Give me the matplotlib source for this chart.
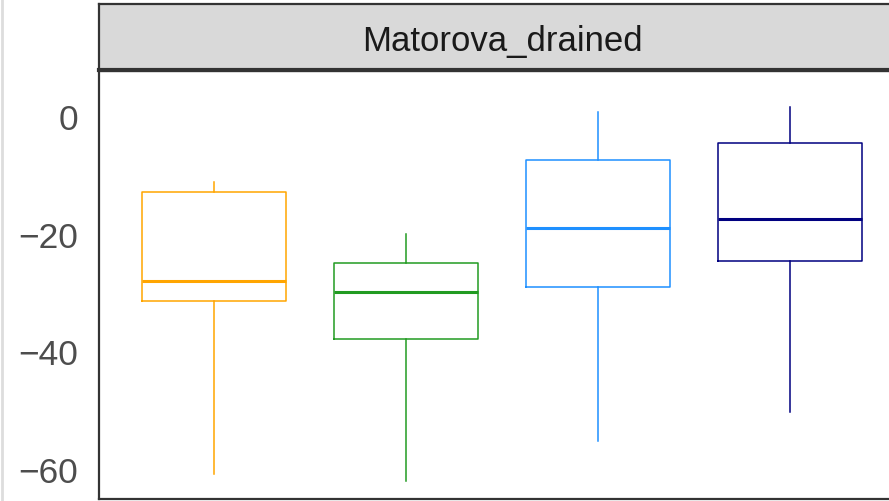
import matplotlib.pyplot as plt
from matplotlib.lines import Line2D

# box statistics
groups = ['a', 'b', 'c', 'd']
whisk_low = [-60.8, -62.0, -55.2, -50.3]
q1 = [-31.4, -37.9, -29.1, -24.6]
median = [-28.0, -29.9, -19.0, -17.5]
q3 = [-12.9, -25.0, -7.5, -4.6]
whisk_high = [-11.2, -20.0, 0.7, 1.5]
colors = ['#FFA500', '#229B22', '#1E90FF', '#000080']
yticks = [0, -20, -40, -60]
facet = 'Matorova_drained'

plt.rcParams['font.family'] = ['Liberation Sans', 'DejaVu Sans']

fig = plt.figure(figsize=(8.89, 5.02), dpi=100)
ax = fig.add_axes([99 / 889, 2 / 502, (905 - 99) / 889, (500 - 72) / 502])

stats = []
for i in range(len(groups)):
    stats.append(dict(whislo=whisk_low[i], q1=q1[i], med=median[i],
                      q3=q3[i], whishi=whisk_high[i], fliers=[], label=groups[i]))

positions = list(range(1, len(groups) + 1))
bp = ax.bxp(stats, positions=positions, widths=0.75, showcaps=False,
            showfliers=False, patch_artist=False)
for i, c in enumerate(colors):
    bp['boxes'][i].set(color=c, linewidth=1.1)
    bp['medians'][i].set(color=c, linewidth=2.2)
    for w in bp['whiskers'][2 * i:2 * i + 2]:
        w.set(color=c, linewidth=1.1)

ax.set_xlim(0.4, 4.6)
ax.set_ylim(-65.1, 7.65)
ax.set_yticks(yticks)
ax.set_yticklabels(['\u2212' + str(-t) if t < 0 else str(t) for t in yticks])
ax.set_xticks([])
ax.tick_params(axis='y', length=0, pad=15, labelsize=25.5, labelcolor='#4d4d4d')
for s in ax.spines.values():
    s.set_color('#333333')
    s.set_linewidth(1.6)

# facet strip
strip = fig.add_axes([99 / 889, 1 - 71 / 502, (905 - 99) / 889, (71 - 5) / 502])
strip.set_xlim(0, 1)
strip.set_ylim(0, 1)
strip.set_facecolor('#d9d9d9')
strip.set_xticks([])
strip.set_yticks([])
for s in strip.spines.values():
    s.set_color('#333333')
    s.set_linewidth(1.6)
strip.spines['bottom'].set_linewidth(3)
strip.text(0.5, 0.5, facet, ha='center', va='center_baseline', fontsize=25,
           color='#1a1a1a')

# thin grey edge at far left
fig.add_artist(Line2D([1.5 / 889, 1.5 / 889], [0, 1], color='#dddddd', linewidth=2))

fig.savefig('out.png', dpi=100)
